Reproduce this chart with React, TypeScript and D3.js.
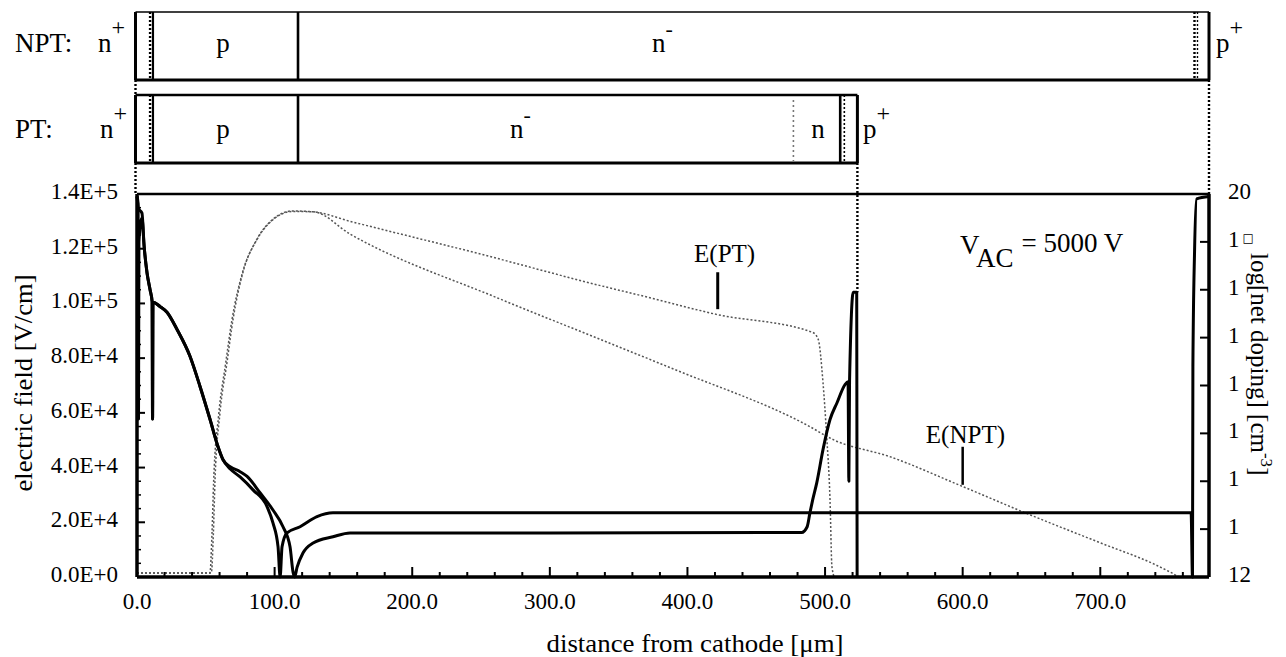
import React from 'react';
import * as d3 from 'd3';

const W = 1286;
const H = 657;

// axes
const xTicks = [0, 100, 200, 300, 400, 500, 600, 700];
const xTickLabels = ['0.0', '100.0', '200.0', '300.0', '400.0', '500.0', '600.0', '700.0'];
const eTicks = [0, 2e4, 4e4, 6e4, 8e4, 1e5, 1.2e5, 1.4e5];
const eTickLabels = ['0.0E+0', '2.0E+4', '4.0E+4', '6.0E+4', '8.0E+4', '1.0E+5', '1.2E+5', '1.4E+5'];
const dopTicks = [12, 13, 14, 15, 16, 17, 18, 19, 20];
const dopTickLabels = ['12', '1', '1', '1', '1', '1', '1', '1□', '20'];

// electric field, PT device [V/cm] vs distance [um]
const ePTx = [0, 54, 55.5, 56.7, 60.3, 65.4, 69.8, 77, 87.2, 98.8, 113, 128, 155, 250, 336, 371, 421, 491, 495, 498.5, 501, 503.6, 505, 507, 523];
const ePTv = [1.5e3, 1.5e3, 1.6e4, 3.56e4, 6.0e4, 7.84e4, 9.42e4, 1.114e5, 1.235e5, 1.308e5, 1.338e5, 1.335e5, 1.3e5, 1.18e5, 1.066e5, 1.023e5, 9.6e4, 8.94e4, 8.69e4, 7.11e4, 5.28e4, 2.82e4, 3.7e3, 0, 0];

// electric field, NPT device
const eNPTx = [0, 53, 54.5, 55.7, 59.3, 64.4, 69, 76.5, 87, 98.8, 113, 128, 155, 262, 336, 390, 487, 506, 547, 598, 650, 700, 740, 752, 758, 779];
const eNPTv = [1.5e3, 1.5e3, 1.6e4, 3.5e4, 5.9e4, 7.8e4, 9.4e4, 1.11e5, 1.232e5, 1.306e5, 1.336e5, 1.335e5, 1.253e5, 1.02e5, 8.7e4, 7.6e4, 5.55e4, 5.02e4, 4.4e4, 3.35e4, 2.25e4, 1.25e4, 4.5e3, 1.5e3, 0, 0];

// log net doping, PT device
const dPTx = [0, 1, 3.6, 5.2, 7.3, 9.5, 11, 11.3, 11.6, 16.7, 21.8, 29.1, 38.5, 45.8, 53.1, 58.9, 62.5, 68, 74.9, 80, 89.4, 98.8, 106.1, 111.2, 113.4, 114.5, 116.3, 120.6, 128, 142.4, 154.8, 300, 483, 487, 489, 491, 494, 498.5, 503.6, 508.7, 514.5, 516.7, 517.3, 517.8, 520.5, 523, 523.3];
const dPTv = [19.95, 19.7, 19.6, 18.9, 18.35, 18.0, 17.75, 15.3, 17.74, 17.65, 17.53, 17.17, 16.61, 15.98, 15.29, 14.72, 14.45, 14.3, 14.2, 14.1, 13.76, 13.4, 13.05, 12.63, 12.1, 12.0, 12.2, 12.5, 12.71, 12.84, 12.92, 12.92, 12.93, 13.05, 13.34, 13.61, 13.97, 14.66, 15.29, 15.64, 16.02, 16.08, 14.0, 16.1, 17.95, 17.95, 12.0];

// log net doping, NPT device
const dNPTx = [0, 0.8, 1.1, 1.4, 3.6, 5.2, 7.3, 9.5, 11, 11.3, 11.6, 16.7, 21.8, 29.1, 38.5, 45.8, 53.1, 58.9, 62.5, 68, 74.9, 84.3, 94.5, 98.8, 102.5, 104, 105.4, 109, 118.5, 130.8, 142.4, 300, 500, 766, 767, 767.3, 768.5, 770, 779];
const dNPTv = [19.95, 19.8, 15.3, 19.0, 19.5, 18.9, 18.35, 18.0, 17.75, 15.3, 17.74, 17.65, 17.53, 17.17, 16.61, 15.98, 15.29, 14.72, 14.45, 14.25, 14.09, 13.82, 13.47, 13.13, 12.63, 12.0, 12.63, 12.92, 13.05, 13.26, 13.34, 13.34, 13.34, 13.34, 12.0, 16.4, 18.8, 19.9, 19.95];

// device structure boundaries [um]
const nPlusDot = 9.5;
const nPlusEnd = 11.6;
const pEnd = 117;
const ptBufferStart = 477;
const ptPplusStart = 511;
const ptPplusDot = 514;
const ptEnd = 523.5;
const nptPplusStart = 767;
const deviceEnd = 779;

const FONT = "'Liberation Serif', 'Times New Roman', serif";

export default function App() {
  const x = d3.scaleLinear().domain([0, 779]).range([137, 1209]);
  const yE = d3.scaleLinear().domain([0, 1.4e5]).range([577, 194]);
  const yD = d3.scaleLinear().domain([12, 20]).range([577, 194]);

  const ePT = d3.zip(ePTx, ePTv) as [number, number][];
  const eNPT = d3.zip(eNPTx, eNPTv) as [number, number][];
  const dPT = d3.zip(dPTx, dPTv) as [number, number][];
  const dNPT = d3.zip(dNPTx, dNPTv) as [number, number][];

  const lineE = d3.line<[number, number]>().x(d => x(d[0])).y(d => yE(d[1])).curve(d3.curveMonotoneX);
  const lineD = d3.line<[number, number]>().x(d => x(d[0])).y(d => yD(d[1])).curve(d3.curveMonotoneX);

  const left = x(0);
  const right = x(deviceEnd);
  const top = yE(1.4e5);
  const bottom = yE(0);

  const nptTop = 12, nptBot = 80, ptTop = 95, ptBot = 163;

  const minorX = d3.range(0, 780, 20).filter(v => v % 100 !== 0);
  const minorE = d3.range(0, 1.4e5, 5e3).filter(v => v % 2e4 !== 0);

  const dotted = { stroke: '#000', strokeWidth: 2.4, strokeDasharray: '2 2', fill: 'none' } as const;

  return (
    <svg width={W} height={H} style={{ position: 'absolute', left: 0, top: 0, background: '#fff' }}>
      <rect x={0} y={0} width={W} height={H} fill="#fff" />
      <g style={{ fontFamily: FONT }}>

      {/* ===== structure rows ===== */}
      {/* NPT row */}
      <line x1={left - 1.5} x2={right} y1={nptTop} y2={nptTop} stroke="#000" strokeWidth={1.6} />
      <line x1={left - 1.5} x2={right} y1={nptBot} y2={nptBot} stroke="#000" strokeWidth={3} />
      <line x1={left - 1.5} x2={left - 1.5} y1={nptTop} y2={nptBot} stroke="#000" strokeWidth={3} />
      <line x1={x(nPlusDot)} x2={x(nPlusDot)} y1={nptTop} y2={nptBot} {...dotted} />
      <line x1={x(nPlusEnd)} x2={x(nPlusEnd)} y1={nptTop} y2={nptBot} stroke="#000" strokeWidth={2.2} />
      <line x1={x(pEnd)} x2={x(pEnd)} y1={nptTop} y2={nptBot} stroke="#000" strokeWidth={2.6} />
      <line x1={x(nptPplusStart) + 2} x2={x(nptPplusStart) + 2} y1={nptTop} y2={nptBot} {...dotted} />
      <line x1={x(nptPplusStart) + 5} x2={x(nptPplusStart) + 5} y1={nptTop} y2={nptBot} {...dotted} strokeWidth={1.4} />
      <line x1={right} x2={right} y1={nptTop} y2={nptBot} stroke="#000" strokeWidth={3} />

      {/* PT row */}
      <line x1={left - 1.5} x2={x(ptEnd)} y1={ptTop} y2={ptTop} stroke="#000" strokeWidth={2.6} />
      <line x1={left - 1.5} x2={x(ptEnd)} y1={ptBot} y2={ptBot} stroke="#000" strokeWidth={3} />
      <line x1={left - 1.5} x2={left - 1.5} y1={ptTop} y2={ptBot} stroke="#000" strokeWidth={3} />
      <line x1={x(nPlusDot)} x2={x(nPlusDot)} y1={ptTop} y2={ptBot} {...dotted} />
      <line x1={x(nPlusEnd)} x2={x(nPlusEnd)} y1={ptTop} y2={ptBot} stroke="#000" strokeWidth={2.2} />
      <line x1={x(pEnd)} x2={x(pEnd)} y1={ptTop} y2={ptBot} stroke="#000" strokeWidth={2.6} />
      <line x1={x(ptBufferStart)} x2={x(ptBufferStart)} y1={ptTop + 5} y2={ptBot - 2} stroke="#777" strokeWidth={1.6} strokeDasharray="2 3" />
      <line x1={x(ptPplusStart)} x2={x(ptPplusStart)} y1={ptTop} y2={ptBot} stroke="#000" strokeWidth={2.6} />
      <line x1={x(ptPplusDot)} x2={x(ptPplusDot)} y1={ptTop} y2={ptBot} {...dotted} strokeWidth={1.6} />
      <line x1={x(ptEnd)} x2={x(ptEnd)} y1={ptTop} y2={ptBot} stroke="#000" strokeWidth={3} />

      {/* connectors */}
      <line x1={left - 1.5} x2={left - 1.5} y1={nptBot} y2={ptTop} {...dotted} />
      <line x1={left - 1.5} x2={left - 1.5} y1={ptBot} y2={top} {...dotted} />
      <line x1={x(ptEnd)} x2={x(ptEnd)} y1={ptBot} y2={yD(17.95)} {...dotted} />
      <line x1={right} x2={right} y1={nptBot} y2={top} {...dotted} />

      {/* structure labels */}
      <g fontSize={27} fill="#000">
        <text x={15} y={52}>NPT:</text>
        <text x={98} y={52}>n<tspan fontSize={24} dy={-17}>+</tspan></text>
        <text x={223} y={52} textAnchor="middle">p</text>
        <text x={652} y={52}>n<tspan fontSize={22} dy={-16}>-</tspan></text>
        <text x={1216} y={52}>p<tspan fontSize={24} dy={-17}>+</tspan></text>

        <text x={15} y={138}>PT:</text>
        <text x={100} y={138}>n<tspan fontSize={24} dy={-17}>+</tspan></text>
        <text x={223} y={138} textAnchor="middle">p</text>
        <text x={510} y={138}>n<tspan fontSize={22} dy={-16}>-</tspan></text>
        <text x={818} y={138} textAnchor="middle">n</text>
        <text x={863} y={138}>p<tspan fontSize={24} dy={-17}>+</tspan></text>
      </g>

      {/* ===== main plot ===== */}
      {/* electric field curves */}
      <path d={lineE(eNPT) || ''} fill="none" stroke="#555" strokeWidth={1.5} strokeDasharray="2 2" />
      <path d={lineE(ePT) || ''} fill="none" stroke="#555" strokeWidth={1.5} strokeDasharray="2 2" />

      {/* doping curves */}
      <path d={lineD(dNPT) || ''} fill="none" stroke="#000" strokeWidth={3} strokeLinejoin="round" />
      <path d={lineD(dPT) || ''} fill="none" stroke="#000" strokeWidth={3} strokeLinejoin="round" />

      {/* frame */}
      <line x1={left} x2={right} y1={top} y2={top} stroke="#000" strokeWidth={2.6} />
      <line x1={left} x2={right} y1={bottom} y2={bottom} stroke="#000" strokeWidth={3.5} />
      <line x1={left} x2={left} y1={top} y2={bottom} stroke="#000" strokeWidth={3.5} />
      <line x1={right} x2={right} y1={top} y2={bottom} stroke="#000" strokeWidth={3.5} />

      {/* x ticks */}
      {xTicks.map(v => (
        <line key={'xt' + v} x1={x(v)} x2={x(v)} y1={bottom} y2={bottom - 10} stroke="#000" strokeWidth={2} />
      ))}
      {minorX.map(v => (
        <line key={'xm' + v} x1={x(v)} x2={x(v)} y1={bottom} y2={bottom - 5} stroke="#000" strokeWidth={2} />
      ))}
      {xTicks.map((v, i) => (
        <text key={'xl' + v} x={x(v)} y={609} fontSize={23} textAnchor="middle">{xTickLabels[i]}</text>
      ))}

      {/* left ticks */}
      {eTicks.map(v => (
        <line key={'et' + v} x1={left} x2={left + 8} y1={yE(v)} y2={yE(v)} stroke="#000" strokeWidth={2} />
      ))}
      {minorE.map(v => (
        <line key={'em' + v} x1={left} x2={left + 4} y1={yE(v)} y2={yE(v)} stroke="#000" strokeWidth={1.5} />
      ))}
      {eTicks.map((v, i) => (
        <text key={'el' + v} x={118} y={yE(v) + 5} fontSize={23} textAnchor="end">{eTickLabels[i]}</text>
      ))}

      {/* right ticks */}
      {dopTicks.map(v => (
        <line key={'dt' + v} x1={right} x2={right - 9} y1={yD(v)} y2={yD(v)} stroke="#000" strokeWidth={2} />
      ))}
      {dopTicks.map((v, i) => {
        const lab = dopTickLabels[i];
        const box = lab.includes('□');
        return (
          <text key={'dl' + v} x={1228} y={yD(v) + 5} fontSize={23}>
            {box ? lab.replace('□', '') : lab}
            {box ? <tspan fontSize={12} dx={3} dy={-5} style={{ fontFamily: 'DejaVu Sans' }}>□</tspan> : null}
          </text>
        );
      })}

      {/* axis titles */}
      <text x={695} y={652} fontSize={25} textAnchor="middle" textLength={297} lengthAdjust="spacingAndGlyphs">distance from cathode [μm]</text>
      <text transform={`translate(32,383) rotate(-90)`} fontSize={25} textAnchor="middle" textLength={217} lengthAdjust="spacingAndGlyphs">electric field [V/cm]</text>
      <text transform={`translate(1251,253) rotate(90)`} fontSize={25}>
        log[net doping] [cm<tspan fontSize={17} dy={-10}>-3</tspan><tspan dy={10}>]</tspan>
      </text>

      {/* annotations */}
      <text x={x(427)} y={yE(1.151e5)} fontSize={25} textAnchor="middle">E(PT)</text>
      <line x1={x(422)} x2={x(422)} y1={yE(1.114e5)} y2={yE(9.79e4)} stroke="#000" strokeWidth={3} />
      <text x={x(602)} y={yE(4.91e4)} fontSize={25} textAnchor="middle">E(NPT)</text>
      <line x1={x(600)} x2={x(600)} y1={yE(4.76e4)} y2={yE(3.37e4)} stroke="#000" strokeWidth={2.5} />

      <text x={x(598)} y={yE(1.18e5)} fontSize={27}>
        V<tspan dy={13}>AC</tspan><tspan dx={8} dy={-15}>= 5000 V</tspan>
      </text>
      </g>
    </svg>
  );
}
